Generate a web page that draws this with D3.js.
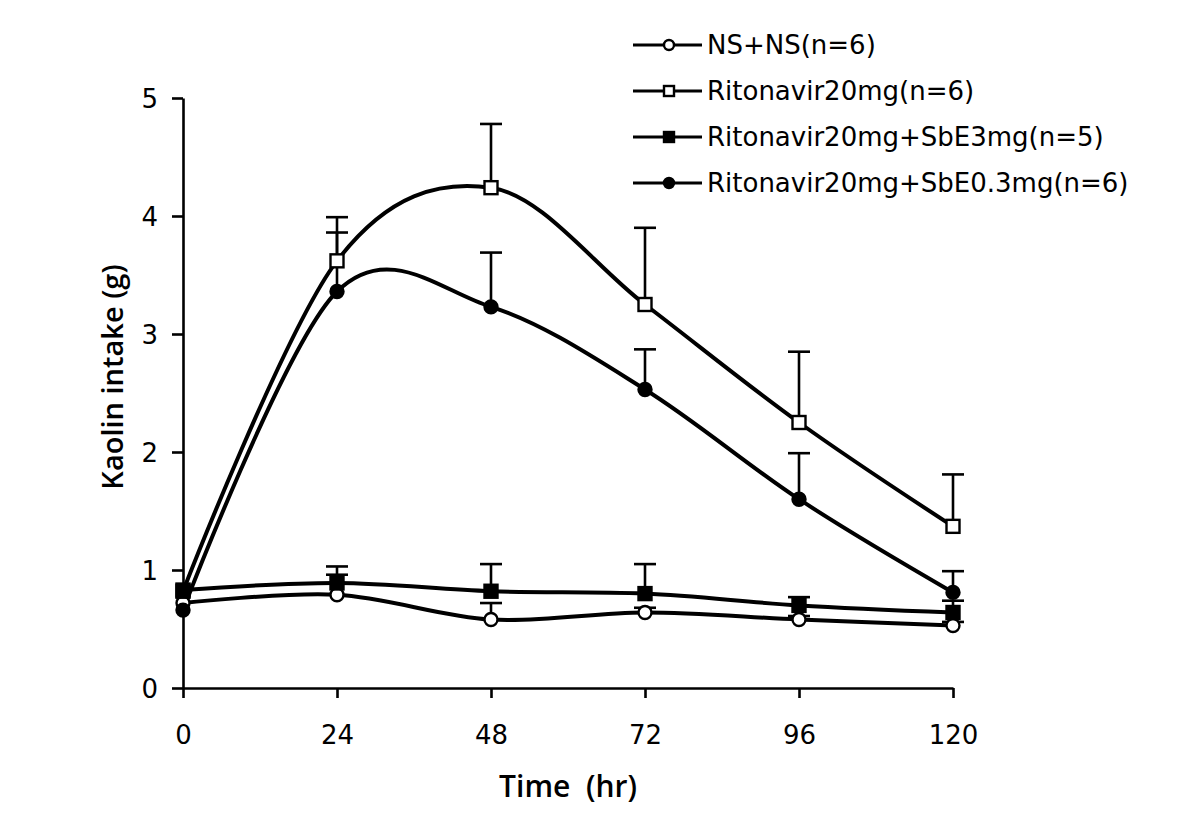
<!DOCTYPE html>
<html><head><meta charset="utf-8">
<script src="https://cdn.jsdelivr.net/npm/d3@7"></script>
<style>
body{margin:0;background:#fff;}
svg{display:block;}
text{fill:#000;}
</style></head>
<body><svg id="c" width="1200" height="830"></svg>
<script>
const times = [0, 24, 48, 72, 96, 120];
const xTicks = [0, 24, 48, 72, 96, 120];
const yTicks = [0, 1, 2, 3, 4, 5];
const seriesNames = ["NS+NS(n=6)", "Ritonavir20mg(n=6)", "Ritonavir20mg+SbE3mg(n=5)", "Ritonavir20mg+SbE0.3mg(n=6)"];
const nsValues   = [0.72, 0.79, 0.58, 0.64, 0.58, 0.53];
const nsErr      = [0, 0.17, 0.14, 0.04, 0.03, 0.03];
const ritValues  = [0.82, 3.62, 4.24, 3.25, 2.25, 1.37];
const ritErr     = [0, 0.37, 0.54, 0.65, 0.60, 0.44];
const sbe3Values = [0.83, 0.89, 0.82, 0.80, 0.70, 0.64];
const sbe3Err    = [0, 0.14, 0.23, 0.25, 0.07, 0.10];
const sbe03Values= [0.66, 3.36, 3.23, 2.53, 1.60, 0.81];
const sbe03Err   = [0, 0.50, 0.46, 0.34, 0.39, 0.18];
const markers = ["circleOpen", "squareOpen", "squareFilled", "circleFilled"];

const series = [
  {name: seriesNames[0], v: nsValues, e: nsErr, m: markers[0]},
  {name: seriesNames[1], v: ritValues, e: ritErr, m: markers[1]},
  {name: seriesNames[2], v: sbe3Values, e: sbe3Err, m: markers[2]},
  {name: seriesNames[3], v: sbe03Values, e: sbe03Err, m: markers[3]}
];

const FONT = '"DejaVu Sans", sans-serif';
const svg = d3.select("#c");
const x = d3.scaleLinear().domain([0, 120]).range([183, 953]);
const y = d3.scaleLinear().domain([0, 5]).range([688, 98]);

// axes
const xAxis = d3.axisBottom(x).tickValues(xTicks).tickFormat(d3.format("d")).tickSize(10).tickSizeOuter(0).tickPadding(28);
const yAxis = d3.axisLeft(y).tickValues(yTicks).tickFormat(d3.format("d")).tickSize(11).tickSizeOuter(0).tickPadding(14);
const gx = svg.append("g").attr("transform", `translate(0,${y(0)})`).call(xAxis);
const gy = svg.append("g").attr("transform", `translate(${x(0)},0)`).call(yAxis);
[gx, gy].forEach(g => {
  g.attr("font-size", null).attr("font-family", null);
  g.select(".domain").attr("stroke", "#000").attr("stroke-width", 2.6);
  g.selectAll(".tick line").attr("stroke", "#000").attr("stroke-width", 2.6);
  g.selectAll(".tick text").style("font-size", "26px").style("font-family", FONT).attr("fill", "#000");
});
gy.selectAll(".tick text").attr("dy", "0.36em");

svg.append("text").attr("x", 568).attr("y", 797).attr("text-anchor", "middle")
  .style("font-family", '"Open Sans", sans-serif')
  .style("font-size", "30px").style("font-weight", "600").attr("xml:space", "preserve").text("Time  (hr)");
svg.append("text").attr("transform", "translate(123,377) rotate(-90)").attr("text-anchor", "middle")
  .style("font-family", '"Open Sans", sans-serif')
  .style("font-size", "29px").style("font-weight", "600").text("Kaolin intake (g)");

const line = d3.line().x((d, i) => x(times[i])).y(d => y(d)).curve(d3.curveCardinal.tension(0));

function drawMarker(g, type, cx, cy, size) {
  if (type.startsWith("circle")) {
    g.append("circle").attr("cx", cx).attr("cy", cy).attr("r", size / 2)
      .attr("fill", type === "circleOpen" ? "#fff" : "#000").attr("stroke", "#000").attr("stroke-width", 2.4);
  } else {
    g.append("rect").attr("x", cx - size / 2).attr("y", cy - size / 2).attr("width", size).attr("height", size)
      .attr("fill", type === "squareOpen" ? "#fff" : "#000").attr("stroke", "#000").attr("stroke-width", 2.4);
  }
}

const plot = svg.append("g");
// error bars
series.forEach(s => {
  s.v.forEach((v, i) => {
    if (!s.e[i]) return;
    const cx = x(times[i]), top = y(v + s.e[i]);
    plot.append("line").attr("x1", cx).attr("x2", cx).attr("y1", y(v)).attr("y2", top).attr("stroke", "#000").attr("stroke-width", 2.6);
    plot.append("line").attr("x1", cx - 11).attr("x2", cx + 11).attr("y1", top).attr("y2", top).attr("stroke", "#000").attr("stroke-width", 2.6);
  });
});
// lines
series.forEach(s => {
  plot.append("path").attr("d", line(s.v)).attr("fill", "none").attr("stroke", "#000").attr("stroke-width", 4);
});
// markers
series.forEach(s => {
  s.v.forEach((v, i) => {
    drawMarker(plot, s.m, x(times[i]), y(v), 13);
  });
});

// legend
const leg = svg.append("g");
series.forEach((s, i) => {
  const ly = 45 + i * 46;
  leg.append("line").attr("x1", 633).attr("x2", 702).attr("y1", ly).attr("y2", ly).attr("stroke", "#000").attr("stroke-width", 3);
  drawMarker(leg, s.m, 669, ly, 10);
  leg.append("text").attr("x", 707).attr("y", ly).attr("dy", "0.36em")
    .style("font-family", FONT).style("font-size", "26px").text(s.name);
});
</script></body></html>
